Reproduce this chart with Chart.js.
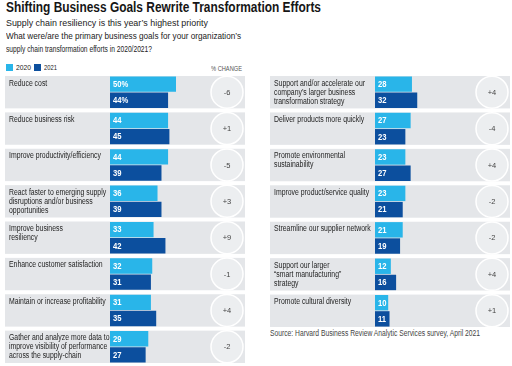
<!DOCTYPE html>
<html><head><meta charset="utf-8">
<script src="https://cdn.jsdelivr.net/npm/chart.js@4"></script>
<style>
html,body{margin:0;padding:0;background:#fff;width:512px;height:366px;overflow:hidden;font-family:"Liberation Sans",Arial,sans-serif;color:#1a1a1a}
.t{position:absolute;white-space:nowrap;transform-origin:0 0;line-height:1}
canvas{position:absolute}
.sq{position:absolute;width:7px;height:7px}
</style></head><body>
<div class="t" id="title" data-w="315" style="left:6px;top:0px;font-size:14px;font-weight:bold;color:#161616">Shifting Business Goals Rewrite Transformation Efforts</div>
<div class="t" data-w="202" style="left:6px;top:18px;font-size:9.5px;color:#222">Supply chain resiliency is this year’s highest priority</div>
<div class="t" data-w="235" style="left:6px;top:32px;font-size:9px;color:#222">What were/are the primary business goals for your organization’s</div>
<div class="t" data-w="146" style="left:6px;top:45px;font-size:9px;color:#222">supply chain transformation efforts in 2020/2021?</div>
<div class="sq" style="left:6px;top:64px;background:#29b5e9"></div>
<div class="t" data-w="15" style="left:16px;top:64px;font-size:8px;color:#222">2020</div>
<div class="sq" style="left:34px;top:64px;background:#0c4f9e"></div>
<div class="t" data-w="13" style="left:44px;top:64px;font-size:8px;color:#222">2021</div>
<div class="t" data-w="31" style="left:211px;top:65px;font-size:7px;color:#555">% CHANGE</div>
<div class="t" data-w="210" style="left:270px;top:329px;font-size:8.5px;color:#444">Source: Harvard Business Review Analytic Services survey, April 2021</div>
<canvas id="left" width="242" height="291" style="left:5px;top:74px;width:242px;height:291px"></canvas>
<canvas id="right" width="242" height="255" style="left:270px;top:74px;width:242px;height:255px"></canvas>
<script>
// ---- data ----
const leftLabels = [["Reduce cost"],["Reduce business risk"],["Improve productivity/efficiency"],["React faster to emerging supply","disruptions and/or business","opportunities"],["Improve business","resiliency"],["Enhance customer satisfaction"],["Maintain or increase profitability"],["Gather and analyze more data to","improve visibility of performance","across the supply-chain"]];
const left2020 = [50,44,44,36,33,32,31,29];
const left2021 = [44,45,39,39,42,31,35,27];
const leftChange = ["-6","+1","-5","+3","+9","-1","+4","-2"];

const rightLabels = [["Support and/or accelerate our","company’s larger business","transformation strategy"],["Deliver products more quickly"],["Promote environmental","sustainability"],["Improve product/service quality"],["Streamline our supplier network"],["Support our larger","“smart manufacturing”","strategy"],["Promote cultural diversity"]];
const right2020 = [28,27,23,23,21,12,10];
const right2021 = [32,23,27,21,19,16,11];
const rightChange = ["+4","-4","+4","-2","-2","+4","+1"];

const C20 = '#29b5e9', C21 = '#0c4f9e', ROW = '#e4e6e9', CIRC = '#eceef0';
const LFONT = '8.5px "Liberation Sans", Arial, sans-serif';
const VFONT = 'bold 8.5px "Liberation Sans", Arial, sans-serif';

function fitHtml(){
  document.querySelectorAll('.t[data-w]').forEach(el=>{
    const w = el.getBoundingClientRect().width;
    const target = parseFloat(el.dataset.w);
    if (w>0) el.style.transform = 'scaleX(' + (target/w) + ')';
  });
}
fitHtml();

function sText(ctx, t, x, y, sx){
  ctx.save(); ctx.translate(x,y); ctx.scale(sx,1); ctx.fillText(t,0,0); ctx.restore();
}

function makePanel(id, labels, d20, d21, chg, pctFirst){
  const cv = document.getElementById(id);
  const mctx = cv.getContext('2d');
  mctx.font = LFONT;
  const LSX = Math.min(1, 92 / mctx.measureText('Improve productivity/efficiency').width);
  const rowPlugin = {
    id:'rows',
    beforeDatasetsDraw(chart){
      const ctx = chart.ctx, y = chart.scales.y, n = labels.length;
      const band = (y.bottom - y.top)/n;
      ctx.save();
      ctx.fillStyle = ROW;
      for (let i=0;i<n;i++){
        const c = y.getPixelForValue(i);
        ctx.fillRect(0, c - band*0.445, chart.width - 2, band*0.89);
      }
      ctx.restore();
    },
    afterDatasetsDraw(chart){
      const ctx = chart.ctx, y = chart.scales.y, x = chart.scales.x, n = labels.length;
      const band = (y.bottom - y.top)/n;
      ctx.save();
      // labels
      ctx.fillStyle = '#1e1e1e'; ctx.font = LFONT; ctx.textBaseline = 'alphabetic';
      for (let i=0;i<n;i++){
        const top = y.getPixelForValue(i) - band*0.445;
        labels[i].forEach((ln,k)=> sText(ctx, ln, 4, top + 9.5 + k*9, LSX));
      }
      // value labels
      ctx.fillStyle = '#fff'; ctx.font = VFONT; ctx.textBaseline = 'middle';
      [d20,d21].forEach((d,di)=>{
        const meta = chart.getDatasetMeta(di);
        d.forEach((v,i)=>{
          const el = meta.data[i];
          sText(ctx, v + (pctFirst && i===0 ? '%' : ''), x.getPixelForValue(0)+3, el.y+0.5, 0.9);
        });
      });
      // change circles
      for (let i=0;i<n;i++){
        const c = y.getPixelForValue(i);
        ctx.beginPath(); ctx.arc(222, c, 16, 0, Math.PI*2);
        ctx.fillStyle = CIRC; ctx.fill();
        ctx.lineWidth = 1.5; ctx.strokeStyle = '#ffffff'; ctx.stroke();
        ctx.fillStyle = '#444'; ctx.font = '7.5px "Liberation Sans", Arial, sans-serif';
        ctx.textAlign = 'center'; ctx.textBaseline = 'middle';
        ctx.fillText(chg[i], 222, c+0.5);
        ctx.textAlign = 'left';
      }
      ctx.restore();
    }
  };
  return new Chart(cv, {
    type:'bar',
    data:{labels: labels.map(l=>l.join(' ')), datasets:[
      {label:'2020', data:d20, backgroundColor:C20, borderWidth:0},
      {label:'2021', data:d21, backgroundColor:C21, borderWidth:0}
    ]},
    options:{
      indexAxis:'y', responsive:false, maintainAspectRatio:false, animation:false,
      devicePixelRatio:1,
      layout:{padding:{left:105,right:5,top:0,bottom:0}},
      plugins:{legend:{display:false}, tooltip:{enabled:false}},
      scales:{x:{display:false,min:0,max:100}, y:{display:false}},
      datasets:{bar:{categoryPercentage:0.89, barPercentage:0.95}}
    },
    plugins:[rowPlugin]
  });
}
makePanel('left', leftLabels, left2020, left2021, leftChange, true);
makePanel('right', rightLabels, right2020, right2021, rightChange, false);
</script>
</body></html>
